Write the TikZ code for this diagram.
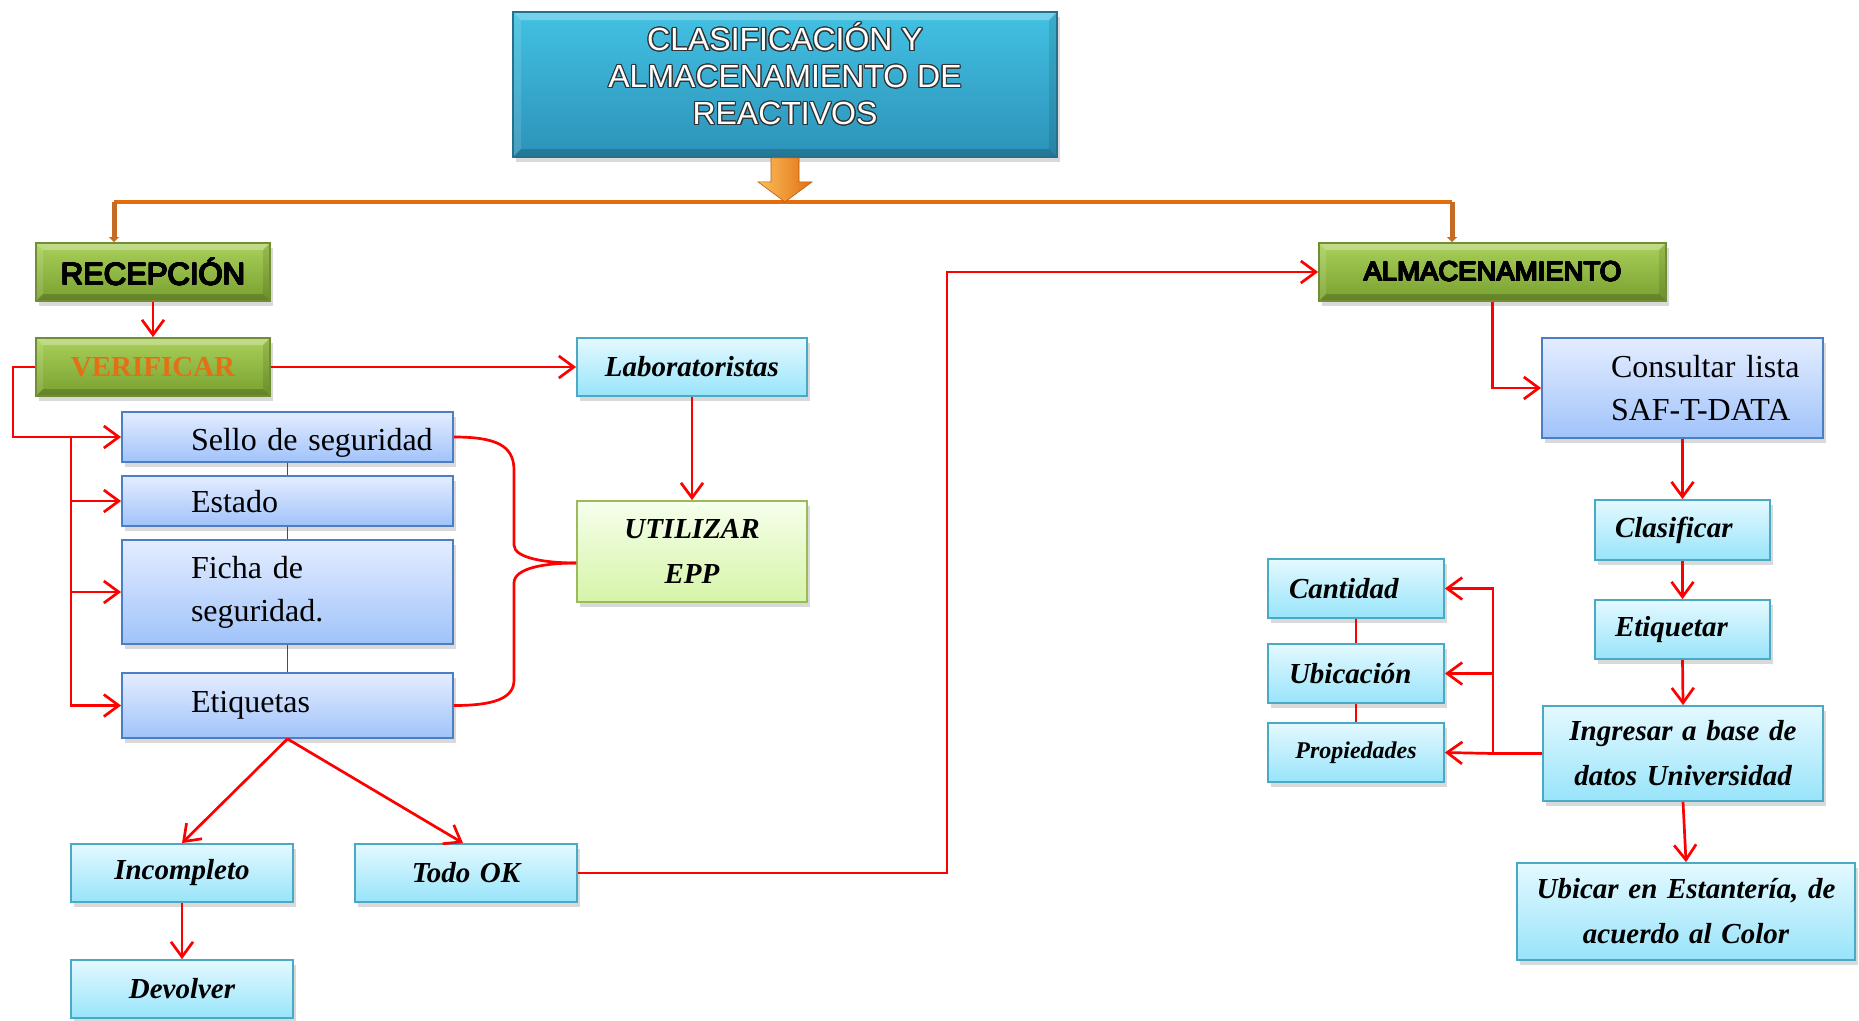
\documentclass[tikz,border=0pt]{standalone}
\usepackage{fontspec}
\setmainfont{Liberation Serif}
\newfontfamily\arialf{Liberation Sans}
\usepackage[copies]{contour}
\contourlength{1.1pt}
\usetikzlibrary{arrows.meta,shadows,calc}
\definecolor{titletop}{RGB}{66,193,227}
\definecolor{titlebot}{RGB}{44,146,184}
\definecolor{titleborder}{RGB}{38,112,140}
\definecolor{greentop}{RGB}{170,208,90}
\definecolor{greenbot}{RGB}{120,160,48}
\definecolor{greenborder}{RGB}{112,142,52}
\definecolor{bluetop}{RGB}{228,237,255}
\definecolor{bluebot}{RGB}{160,195,250}
\definecolor{blueborder}{RGB}{76,126,196}
\definecolor{cyantop}{RGB}{228,249,255}
\definecolor{cyanbot}{RGB}{152,228,250}
\definecolor{cyanborder}{RGB}{74,170,198}
\definecolor{utiltop}{RGB}{246,255,236}
\definecolor{utilbot}{RGB}{214,244,168}
\definecolor{utilborder}{RGB}{155,187,89}
\definecolor{busorange}{RGB}{228,108,10}
\definecolor{tickbrown}{RGB}{196,108,38}
\definecolor{arrowlight}{RGB}{252,190,90}
\definecolor{arrowdark}{RGB}{226,112,20}
\definecolor{verifcol}{RGB}{228,112,22}
\definecolor{redline}{RGB}{255,0,0}
\begin{document}
\begin{tikzpicture}[x=1pt,y=-1pt,
  sz/.style n args={2}{minimum width=#1pt,minimum height=#2pt,text width=#1pt},
  box/.style={draw,line width=1.8pt,inner xsep=0pt,inner ysep=0pt,
    drop shadow={shadow xshift=3pt,shadow yshift=-5pt,opacity=0.3}},
  bevel/.style={path picture={
    \fill[white,opacity=0.28] (path picture bounding box.north west) -- (path picture bounding box.north east)
      -- ([xshift=-#1,yshift=-#1]path picture bounding box.north east) -- ([xshift=#1,yshift=-#1]path picture bounding box.north west) -- cycle;
    \fill[white,opacity=0.12] (path picture bounding box.north west) -- (path picture bounding box.south west)
      -- ([xshift=#1,yshift=#1]path picture bounding box.south west) -- ([xshift=#1,yshift=-#1]path picture bounding box.north west) -- cycle;
    \fill[black,opacity=0.18] (path picture bounding box.south west) -- (path picture bounding box.south east)
      -- ([xshift=-#1,yshift=#1]path picture bounding box.south east) -- ([xshift=#1,yshift=#1]path picture bounding box.south west) -- cycle;
    \fill[black,opacity=0.10] (path picture bounding box.north east) -- (path picture bounding box.south east)
      -- ([xshift=-#1,yshift=#1]path picture bounding box.south east) -- ([xshift=-#1,yshift=-#1]path picture bounding box.north east) -- cycle;
  }},
  titlebox/.style={box,draw=titleborder,top color=titletop,bottom color=titlebot,bevel=8pt},
  titletext/.style={align=center,text=white,font=\arialf\fontsize{32}{37}\selectfont},
  greenbox/.style={box,draw=greenborder,top color=greentop,bottom color=greenbot,align=center,bevel=7pt},
  bluebox/.style={box,draw=blueborder,top color=bluetop,bottom color=bluebot,align=left,
    font=\fontsize{32}{43}\selectfont},
  cyanbox/.style={box,draw=cyanborder,top color=cyantop,bottom color=cyanbot,align=center,
    font=\fontsize{29}{45}\selectfont\bfseries\itshape},
  utilbox/.style={box,draw=utilborder,top color=utiltop,bottom color=utilbot,align=center,
    font=\fontsize{29}{45}\selectfont\bfseries\itshape},
  conn/.style={draw=redline,line width=2.7pt,-{Straight Barb[length=15pt,width=22pt]}},
  plainred/.style={draw=redline,line width=2.7pt},
  thinred/.style={draw=redline,line width=1.8pt}
]
\useasboundingbox (0,0) rectangle (1859,1020);

% title
\node[titlebox,sz={544}{145}] (title) at (785,84.5) {};
\node[titletext] (titlelbl) at ([yshift=10pt]title.center)
  {\contourlength{1.3pt}\contour{black!80}{CLASIFICACIÓN Y}\\\contour{black!80}{ALMACENAMIENTO DE}\\\contour{black!80}{REACTIVOS}};

% green headers
\node[greenbox,sz={234}{58},font=\arialf\fontsize{31}{36}\selectfont] (rec) at (153,272) {\contourlength{0.7pt}\contour{black}{RECEPCIÓN}};
\node[greenbox,sz={234}{58},font=\bfseries\fontsize{29}{34}\selectfont,text=verifcol] (verif) at (153,367) {VERIFICAR};
\node[greenbox,sz={347}{58},font=\arialf\fontsize{27.5}{34}\selectfont] (alm) at (1492.5,272) {\contourlength{0.7pt}\contour{black}{ALMACENAMIENTO}};

% left column
\node[cyanbox,sz={230}{58}] (lab) at (692,367) {Laboratoristas};
\node[utilbox,sz={230}{101}] (util) at (692,551.5) {UTILIZAR\\EPP};
\node[bluebox,sz={331}{50},text height=34pt,text depth=7pt] (sello) at (287.5,437) {\hspace*{69pt}Sello de seguridad};
\node[bluebox,sz={331}{50},text height=30pt,text depth=7pt] (estado) at (287.5,501) {\hspace*{69pt}Estado};
\node[bluebox,sz={331}{104}] (ficha) at (287.5,592) {\hspace*{69pt}Ficha de\\\hspace*{69pt}seguridad.};
\node[bluebox,sz={331}{65}] (etiq) at (287.5,705.5) {\hspace*{69pt}Etiquetas};
\node[cyanbox,sz={222}{58}] (inc) at (182,873) {Incompleto};
\node[cyanbox,sz={222}{58}] (ok) at (466,873) {Todo OK};
\node[cyanbox,sz={222}{58}] (dev) at (182,989) {Devolver};

% right column
\node[bluebox,sz={281}{100}] (cons) at (1682.5,388) {\hspace*{69pt}Consultar lista\\\hspace*{69pt}SAF-T-DATA};
\node[cyanbox,sz={175}{60},align=left] (clas) at (1682.5,530) {\hspace*{20pt}Clasificar};
\node[cyanbox,sz={175}{59},align=left] (etqr) at (1682.5,629.5) {\hspace*{20pt}Etiquetar};
\node[cyanbox,sz={280}{95}] (ing) at (1683,753.5) {Ingresar a base de\\datos Universidad};
\node[cyanbox,sz={338}{97}] (ubi) at (1686,911.5) {Ubicar en Estantería, de\\acuerdo al Color};
\node[cyanbox,sz={176}{59},align=left] (cant) at (1356,588.5) {\hspace*{21pt}Cantidad};
\node[cyanbox,sz={176}{59},align=left] (ubic) at (1356,673.5) {\hspace*{21pt}Ubicación};
\node[cyanbox,sz={176}{59},font=\fontsize{24}{30}\selectfont\bfseries\itshape] (prop) at (1356,752.5) {Propiedades};

% orange bus
\coordinate (busL) at (114,202);
\coordinate (busR) at (1452,202);
\draw[line width=4pt,busorange] (busL) -- (busR);
\draw[line width=5pt,tickbrown,-{Triangle[length=5pt,width=10pt]}] (busL) -- (busL |- rec.north);
\draw[line width=5pt,tickbrown,-{Triangle[length=5pt,width=10pt]}] (busR) -- (busR |- alm.north);
\shade[left color=arrowlight,right color=arrowdark,draw=arrowdark!80!black,line width=0.6pt]
  ($(title.south)+(-14,0)$) -- ($(title.south)+(14,0)$) -- ($(title.south)+(14,24)$)
  -- ($(title.south)+(27,24)$) -- ($(title.south)+(0,44)$) -- ($(title.south)+(-27,24)$)
  -- ($(title.south)+(-14,24)$) -- cycle;

% left connectors
\draw[conn] (rec.south) -- (verif.north);
\draw[conn] (verif.east) -- (lab.west);
\draw[conn] (verif.west) -| (13,437) -- (sello.west);
\coordinate (br1) at (71,437);
\draw[conn] (br1) |- (estado.west);
\draw[conn] (br1) |- (ficha.west);
\draw[conn] (br1) |- (etiq.west);
\draw[thinred] (sello.south) -- (estado.north);
\draw[thinred] (estado.south) -- (ficha.north);
\draw[thinred] (ficha.south) -- (etiq.north);
\draw[conn] (lab.south) -- (util.north);
\coordinate (bracetip) at ([yshift=-11.5pt]util.west);
\draw[plainred] (sello.east) .. controls (495,437) and (514,445) .. (514,470) -- (514,545)
  .. controls (514,558) and (545,563) .. (bracetip);
\draw[plainred] (bracetip) .. controls (545,563) and (514,568) .. (514,583) -- (514,680)
  .. controls (514,698) and (495,705.5) .. (etiq.east);
\draw[conn] (etiq.south) -- (inc.north);
\draw[conn] (etiq.south) -- ([xshift=-3pt]ok.north);
\draw[conn] (inc.south) -- (dev.north);
\coordinate (okturn) at (947,873);
\draw[conn] (ok.east) -- (okturn) |- (alm.west);

% right connectors
\draw[conn] (alm.south) |- (cons.west);
\draw[conn] (cons.south) -- (clas.north);
\draw[conn] (clas.south) -- (etqr.north);
\draw[conn] (etqr.south) -- (ing.north);
\draw[conn] (ing.south) -- (ubi.north);
\coordinate (br2) at (1493,753.5);
\draw[plainred,line width=3.5pt] (ing.west) -- (br2);
\draw[conn] (br2) |- (cant.east);
\draw[conn] (br2) |- (ubic.east);
\draw[conn] (br2) -- (prop.east);
\draw[thinred] (cant.south) -- (ubic.north);
\draw[thinred] (ubic.south) -- (prop.north);
\end{tikzpicture}
\end{document}
